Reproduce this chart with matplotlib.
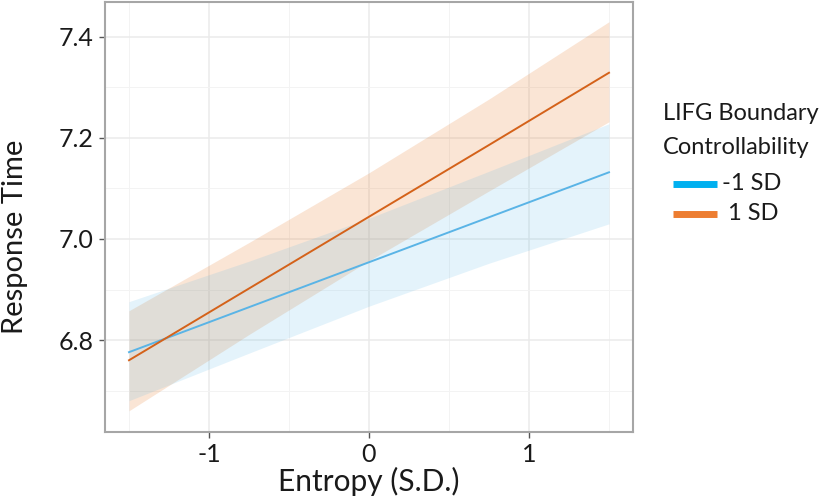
import numpy as np
import matplotlib
matplotlib.use("Agg")
import matplotlib.pyplot as plt
from matplotlib.lines import Line2D

plt.rcParams['font.family'] = ['Lato', 'DejaVu Sans']

# entropy positions (S.D.) where values were read
entropy = [-1.5, -0.75, 0.0, 0.75, 1.5]

# -1 SD controllability
low_fit = [6.776, 6.865, 6.954, 7.043, 7.132]
low_upper = [6.876, 6.956, 7.041, 7.134, 7.228]
low_lower = [6.680, 6.774, 6.867, 6.952, 7.030]

# 1 SD controllability
high_fit = [6.760, 6.902, 7.044, 7.186, 7.329]
high_upper = [6.858, 6.993, 7.131, 7.277, 7.430]
high_lower = [6.660, 6.811, 6.957, 7.095, 7.232]

x_ticks = [-1, 0, 1]
y_ticks = [6.8, 7.0, 7.2, 7.4]
legend_title = ['LIFG Boundary', 'Controllability']
legend_labels = ['-1 SD', ' 1 SD']
legend_colors = ['#00B0F0', '#ED7D31']

W, H = 826, 500
fig = plt.figure(figsize=(8.26, 5.0), dpi=100)
ax = fig.add_axes([105 / W, 1 - 432 / H, 528 / W, 430 / H])

# ribbons
ax.fill_between(entropy, high_lower, high_upper, color='#E87D2F', alpha=0.2, lw=0, zorder=2)
ax.fill_between(entropy, low_lower, low_upper, color='#4DB3E6', alpha=0.15, lw=0, zorder=3)

ax.plot(entropy, low_fit, color='#5AB4E6', lw=1.4, zorder=4)
ax.plot(entropy, high_fit, color='#D4621A', lw=1.4, zorder=5)

ax.set_xlim(-1.65, 1.65)
ax.set_ylim(6.618, 7.469)
ax.set_xticks(x_ticks)
ax.set_xticklabels([str(t) for t in x_ticks])
ax.set_yticks(y_ticks)
ax.set_yticklabels([f'{t:.1f}' for t in y_ticks])
ax.set_xticks([-1.5, -0.5, 0.5, 1.5], minor=True)
ax.set_yticks([6.7, 6.9, 7.1, 7.3], minor=True)

ax.grid(which='major', color='#EBEBEB', lw=1.1, zorder=0)
ax.grid(which='minor', color='#F3F3F3', lw=0.7, zorder=0)
ax.set_axisbelow(True)
ax.tick_params(which='minor', length=0)
ax.tick_params(which='major', length=4, width=1, color='#555555', labelsize=18,
               labelcolor='#1A1A1A', pad=4)
for s in ax.spines.values():
    s.set_color('#A6A6A6')
    s.set_linewidth(1.5)

ax.set_xlabel('Entropy (S.D.)', fontsize=21.5, color='#1A1A1A')
ax.xaxis.set_label_coords(0.5, -0.082)
ax.set_ylabel('Response Time', fontsize=21, color='#1A1A1A')
ax.yaxis.set_label_coords(-0.145, 0.455)

# legend
fig.text(663 / W, 1 - 114 / H, legend_title[0], fontsize=17, color='#1A1A1A',
         ha='left', va='center')
fig.text(663 / W, 1 - 147 / H, legend_title[1], fontsize=17, color='#1A1A1A',
         ha='left', va='center')
for i, (lab, col) in enumerate(zip(legend_labels, legend_colors)):
    yy = 1 - (184 + 30 * i) / H
    fig.add_artist(Line2D([673 / W, 717 / W], [yy, yy], color=col, lw=5,
                          solid_capstyle='butt'))
    fig.text(722 / W, yy, lab, fontsize=17, color='#1A1A1A', ha='left', va='center')

fig.savefig('out.png', dpi=100)
